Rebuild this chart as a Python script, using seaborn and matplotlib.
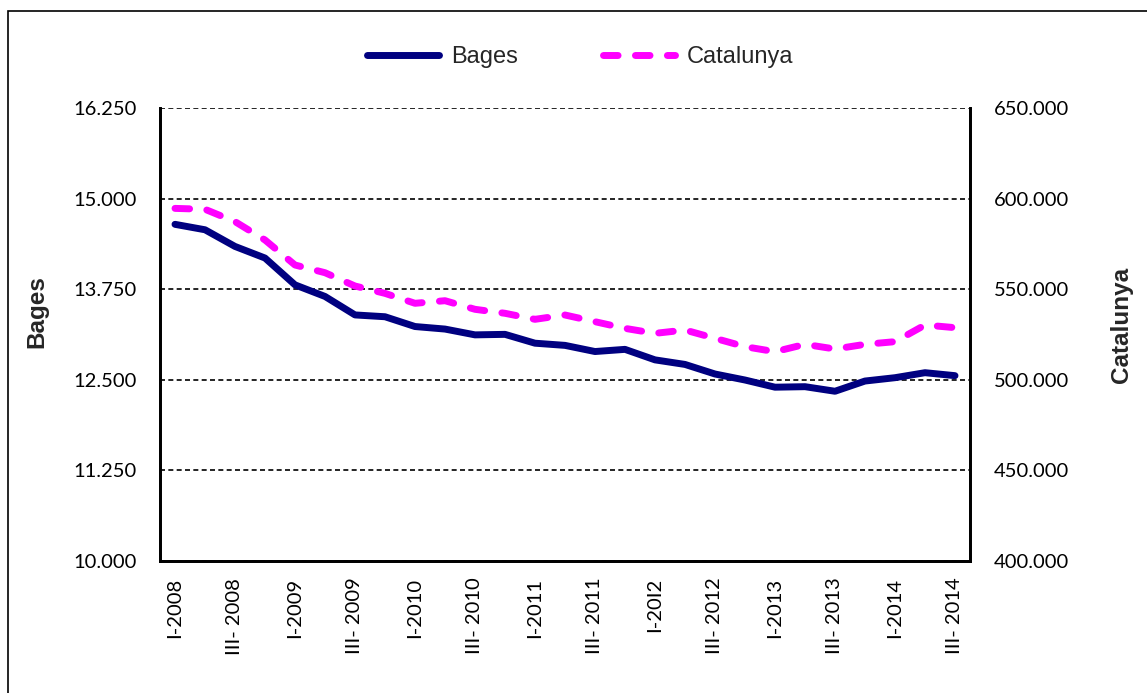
import numpy as np
import pandas as pd
import matplotlib
matplotlib.use("Agg")
import matplotlib.pyplot as plt
import matplotlib.ticker as mticker
from matplotlib.patches import Rectangle
import seaborn as sns

# quarters I-2008 .. III-2014
quarters = []
for year in range(2008, 2015):
    for q in ["I", "II", "III", "IV"]:
        quarters.append(q + "-" + str(year))
quarters = quarters[:27]

bages = [14645, 14570, 14340, 14180, 13810, 13650, 13395, 13370, 13235,
         13200, 13120, 13127, 13005, 12975, 12890, 12920, 12775, 12712,
         12580, 12497, 12398, 12405, 12342, 12483, 12529, 12598, 12557]
catalunya = [594600, 594100, 587300, 577150, 563350, 559100, 551760, 547700,
             542220, 543650, 538900, 536700, 533380, 535760, 532070, 528390,
             525630, 527470, 522880, 518280, 515520, 519570, 516990, 519570,
             521040, 530240, 528770]

tick_labels = ["I-2008", "III- 2008", "I-2009", "III- 2009", "I-2010",
               "III- 2010", "I-2011", "III- 2011", "I-20I2", "III- 2012",
               "I-2013", "III- 2013", "I-2014", "III- 2014"]

left_ticks = [10000, 11250, 12500, 13750, 15000, 16250]
right_ticks = [400000, 450000, 500000, 550000, 600000, 650000]

df = pd.DataFrame({"pos": np.arange(len(quarters)), "quarter": quarters,
                   "Bages": bages, "Catalunya": catalunya})

sns.set_style("white")
plt.rcParams["font.family"] = ["Lato", "DejaVu Sans"]

fig = plt.figure(figsize=(11.47, 6.93), dpi=100)
ax = fig.add_axes([160 / 1147, 1 - 561 / 693, 810 / 1147, 453 / 693])
ax2 = ax.twinx()

sns.lineplot(data=df, x="pos", y="Bages", ax=ax, color="#000080",
             lw=5, label="Bages", legend=False)
sns.lineplot(data=df, x="pos", y="Catalunya", ax=ax2, color="#FF00FF",
             lw=5, label="Catalunya", legend=False)
l1 = ax.lines[0]
l2 = ax2.lines[0]
l1.set_solid_capstyle("round")
l1.set_solid_joinstyle("round")
l2.set_dashes((2.1, 2.5))
l2.set_dash_capstyle("round")

ax.set_xlim(-0.5, len(quarters) - 0.5)
ax.set_ylim(10000, 16250)
ax2.set_ylim(400000, 650000)
ax.set_yticks(left_ticks)
ax2.set_yticks(right_ticks)
fmt = mticker.FuncFormatter(lambda v, p: "{:,.0f}".format(v).replace(",", "."))
ax.yaxis.set_major_formatter(fmt)
ax2.yaxis.set_major_formatter(fmt)

ax.set_xticks(df["pos"][::2])
ax.set_xticklabels(tick_labels, rotation=90, ha="center", va="top")
ax.set_xlabel("")
ax.set_ylabel("")
ax2.set_ylabel("")

ax.tick_params(axis="both", length=0, labelsize=14.5, colors="black")
ax.tick_params(axis="y", pad=17)
ax.tick_params(axis="x", pad=12)
ax2.tick_params(axis="y", length=0, labelsize=14.5, colors="black", pad=17)

ax.yaxis.grid(True, color="black", linestyle=(0, (3, 2)), lw=1.2)
ax.xaxis.grid(False)
ax2.grid(False)
for a in (ax, ax2):
    for side in ["left", "right", "bottom"]:
        a.spines[side].set_color("black")
        a.spines[side].set_linewidth(2)
    a.spines["top"].set_visible(False)

fig.legend(handles=[l1, l2], labels=["Bages", "Catalunya"], ncol=2,
           loc="center", bbox_to_anchor=(580 / 1147, 1 - 57 / 693),
           frameon=False, handlelength=3.05, handletextpad=0.5,
           columnspacing=3.6, prop={"family": "Liberation Sans", "size": 17})

fig.text(37 / 1147, 1 - 312 / 693, "Bages", rotation=90, ha="center",
         va="center", fontsize=17.5, fontweight="bold", family="Liberation Sans")
fig.text(1122 / 1147, 1 - 325 / 693, "Catalunya", rotation=90, ha="center",
         va="center", fontsize=17.5, fontweight="bold", family="Liberation Sans")

fig.patches.append(Rectangle((8 / 1147, -0.1), 1.2, 1.1 - 11 / 693,
                             transform=fig.transFigure, fill=False,
                             edgecolor="black", lw=1.2))

fig.savefig("out.png", dpi=100)
